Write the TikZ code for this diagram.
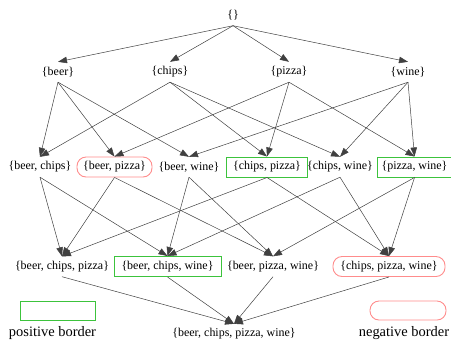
\documentclass[tikz,border=0pt]{standalone}
\usepackage{fontspec}
\setmainfont{Liberation Serif}
\usetikzlibrary{arrows.meta}
\definecolor{posgreen}{RGB}{60,195,60}
\definecolor{negred}{RGB}{255,140,140}
\tikzset{
  item/.style={inner sep=2bp, minimum height=20bp, font=\fontsize{12}{14}\selectfont},
  posbox/.style={item, draw=posgreen, line width=1bp},
  negbox/.style={item, draw=negred, line width=0.9bp, rounded corners=9bp},
  link/.style={draw=black!75, line width=0.5bp, -{Triangle[length=9bp,width=6.5bp]}},
  legendtext/.style={inner sep=0pt, font=\fontsize{14.5}{16}\selectfont},
}
\begin{document}
\begin{tikzpicture}[x=1bp,y=-1bp]
\useasboundingbox (0,0) rectangle (451,345);

% lattice levels
\node[item] (e) at (233,15.5) {\{\}};

\node[item] (b) at (58,72) {\{beer\}};
\node[item] (c) at (170,72) {\{chips\}};
\node[item] (p) at (289,72) {\{pizza\}};
\node[item] (w) at (408,72) {\{wine\}};

\node[item] (bc) at (40,167) {\{beer, chips\}};
\node[negbox, minimum width=75bp] (bp) at (114.5,167) {\{beer, pizza\}};
\node[item] (bw) at (189,167) {\{beer, wine\}};
\node[posbox, minimum width=81bp] (cp) at (267,167) {\{chips, pizza\}};
\node[item] (cw) at (340,167) {\{chips, wine\}};
\node[posbox, minimum width=75bp] (pw) at (414.5,167) {\{pizza, wine\}};

\node[item] (bcp) at (62,266.5) {\{beer, chips, pizza\}};
\node[posbox, minimum width=107bp] (bcw) at (167.5,266.5) {\{beer, chips, wine\}};
\node[item] (bpw) at (273,266.5) {\{beer, pizza, wine\}};
\node[negbox, minimum width=112bp] (cpw) at (389,266.5) {\{chips, pizza, wine\}};

\node[item] (bcpw) at (234,334) {\{beer, chips, pizza, wine\}};

% edges: each set points to its supersets one level down
\foreach \s/\t in {e/b, e/c, e/p, e/w,
  b/bc, b/bp, b/bw, c/bc, c/cp, c/cw, p/bp, p/cp, p/pw, w/bw, w/cw, w/pw,
  bc/bcp, bc/bcw, bp/bcp, bp/bpw, bw/bcw, bw/bpw,
  cp/bcp, cp/cpw, cw/bcw, cw/cpw, pw/bpw, pw/cpw,
  bcp/bcpw, bcw/bcpw, bpw/bcpw, cpw/bcpw}
  \draw[link] (\s.south) -- (\t.north);

% legend
\node[posbox, minimum width=75bp, minimum height=19bp] (poskey) at (58,310.5) {};
\node[legendtext] (poslabel) at (52.5,333) {positive border};
\node[negbox, minimum width=76bp, minimum height=19bp] (negkey) at (408,310.5) {};
\node[legendtext] (neglabel) at (404,333) {negative border};
\end{tikzpicture}
\end{document}
